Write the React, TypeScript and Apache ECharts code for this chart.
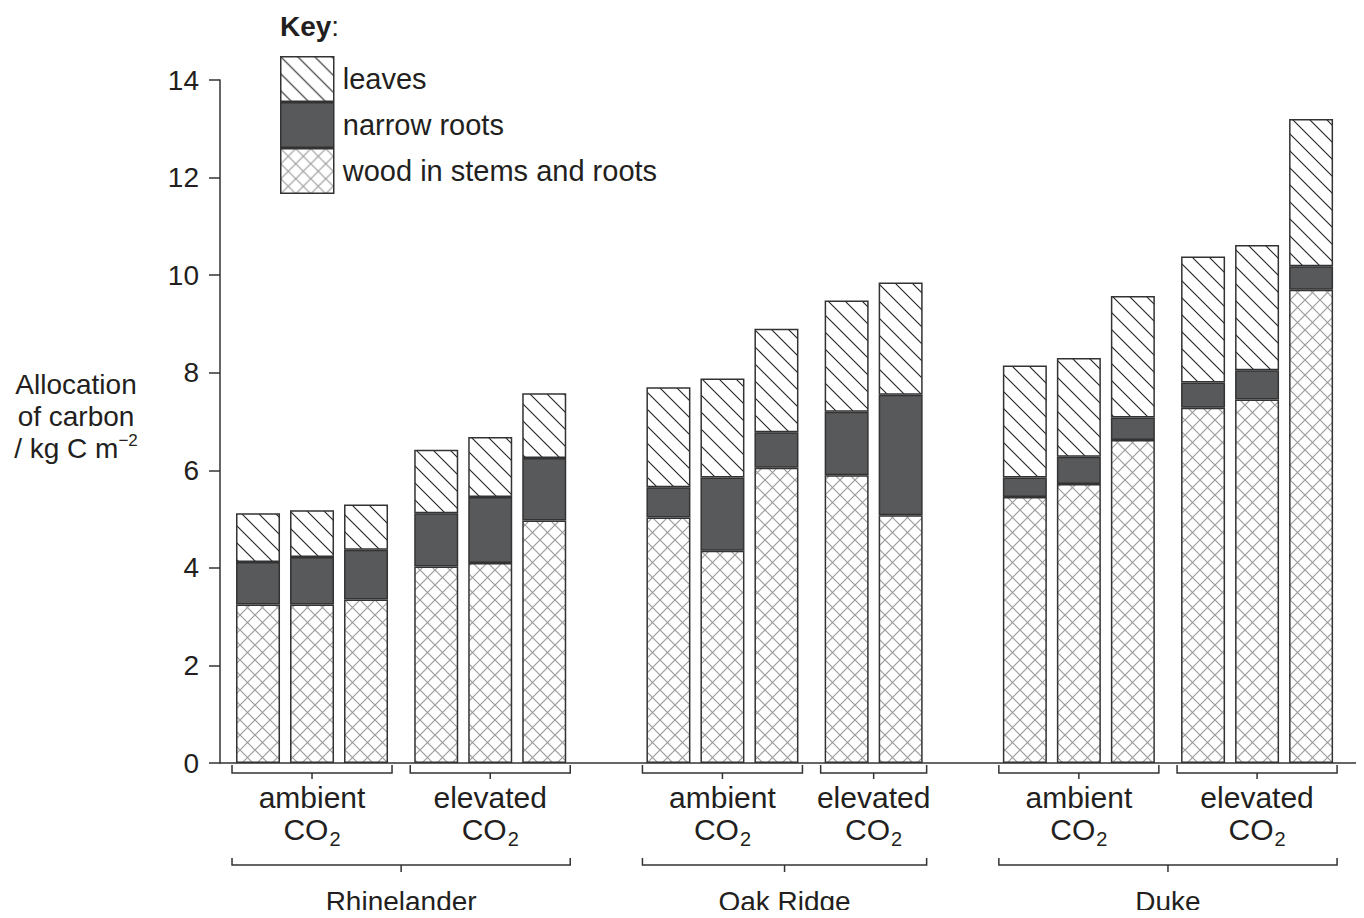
import React, { useEffect, useRef } from "react";
import * as echarts from "echarts";

const sites = ["Rhinelander", "Oak Ridge", "Duke"];
const treatments = ["ambient", "elevated"];
// site index and CO2 treatment index of every bar, left to right
const barSite = [0, 0, 0, 0, 0, 0, 1, 1, 1, 1, 1, 2, 2, 2, 2, 2, 2];
const barTreatment = [0, 0, 0, 1, 1, 1, 0, 0, 0, 1, 1, 0, 0, 0, 1, 1, 1];
// kg C m^-2
const wood = [3.25, 3.25, 3.35, 4.03, 4.1, 4.97, 5.03, 4.35, 6.05, 5.9, 5.08, 5.45, 5.72, 6.62, 7.28, 7.45, 9.7];
const narrowRoots = [0.87, 0.97, 1.02, 1.09, 1.35, 1.28, 0.62, 1.5, 0.73, 1.3, 2.47, 0.4, 0.56, 0.46, 0.52, 0.6, 0.48];
const leaves = [1.0, 0.96, 0.93, 1.3, 1.23, 1.33, 2.05, 2.03, 2.12, 2.28, 2.3, 2.3, 2.02, 2.49, 2.58, 2.57, 3.02];
const yMin = 0;
const yMax = 14;
const yInterval = 2;

const FONT = "'Liberation Sans', Arial, Helvetica, sans-serif";
const TEXT = "#231f20";
const EDGE = "#333333";
const BAR_W = 44;

// slot positions: 1 per bar, a small extra gap between treatments, a larger one between sites
const positions: number[] = [];
{
  let p = 0;
  barSite.forEach((s, i) => {
    if (i > 0) {
      p += 1;
      if (s !== barSite[i - 1]) p += 1.3;
      else if (barTreatment[i] !== barTreatment[i - 1]) p += 0.3;
    }
    positions.push(p);
  });
}

const svgTile = (w: number, h: number, body: string) =>
  "data:image/svg+xml;charset=utf-8," +
  encodeURIComponent(
    `<svg xmlns="http://www.w3.org/2000/svg" width="${w}" height="${h}"><rect width="${w}" height="${h}" fill="#ffffff"/>${body}</svg>`
  );

const leavesFill: any = {
  type: "pattern",
  image: svgTile(
    17,
    17,
    `<path d="M-2,-2L19,19M-2,15L2,19M15,-2L19,2" stroke="#222222" stroke-width="1.1" fill="none"/>`
  ),
  repeat: "repeat",
  imageWidth: 17,
  imageHeight: 17,
};
const woodFill: any = {
  type: "pattern",
  image: svgTile(
    15,
    15,
    `<path d="M-1,-1L16,16M16,-1L-1,16M1,-1L-1,1M16,14L14,16M14,-1L16,1M-1,14L1,16" stroke="#9c9c9c" stroke-width="1.2" fill="none"/>`
  ),
  repeat: "repeat",
  imageWidth: 15,
  imageHeight: 15,
};
const rootsFill = "#58595b";

export default function App() {
  const ref = useRef<HTMLDivElement>(null);
  useEffect(() => {
    if (!ref.current) return;
    const chart = echarts.init(ref.current, null, { renderer: "svg" });
    // value first, slot position second, so that the stack runs along the value dimension
    const mk = (name: string, vals: number[], color: any) => ({
      name,
      type: "bar",
      stack: "carbon",
      barWidth: BAR_W,
      silent: true,
      encode: { x: 1, y: 0 },
      data: vals.map((v, i) => [v, positions[i]]),
      itemStyle: { color, borderColor: EDGE, borderWidth: 1.5 },
      emphasis: { disabled: true },
    });
    const option: any = {
      animation: false,
      backgroundColor: "#ffffff",
      grid: { left: 220, right: 0, top: 80, bottom: 155 },
      xAxis: {
        type: "value",
        min: -0.704,
        max: 20.48,
        axisLine: { show: true, onZero: true, lineStyle: { color: EDGE, width: 1.5 } },
        axisTick: { show: false },
        axisLabel: { show: false },
        splitLine: { show: false },
      },
      yAxis: {
        type: "value",
        min: yMin,
        max: yMax,
        interval: yInterval,
        axisLine: { show: true, onZero: false, lineStyle: { color: EDGE, width: 1.5 } },
        axisTick: { show: true, inside: false, length: 11, lineStyle: { color: EDGE, width: 1.5 } },
        axisLabel: { fontSize: 28, color: TEXT, fontFamily: FONT, margin: 21 },
        splitLine: { show: false },
      },
      legend: {
        orient: "vertical",
        left: 280,
        top: 56,
        padding: 0,
        itemGap: 0,
        itemWidth: 53,
        itemHeight: 44.5,
        icon: "rect",
        selectedMode: false,
        data: ["leaves", "narrow roots", "wood in stems and roots"],
        itemStyle: { borderColor: EDGE, borderWidth: 1.5 },
        textStyle: { fontSize: 29, color: TEXT, fontFamily: FONT, padding: [0, 0, 4, 4] },
      },
      series: [
        mk("wood in stems and roots", wood, woodFill),
        mk("narrow roots", narrowRoots, rootsFill),
        mk("leaves", leaves, leavesFill),
      ],
    };
    chart.setOption(option);

    const px = (v: number) => chart.convertToPixel({ xAxisIndex: 0 }, v) as number;
    const y0 = chart.convertToPixel({ yAxisIndex: 0 }, 0) as number;
    const graphic: any[] = [];
    const lineStyle = { stroke: EDGE, lineWidth: 1.5, fill: "none" };
    const bracket = (l: number, r: number, y: number, up: number, down: number) => {
      const c = (l + r) / 2;
      graphic.push({
        type: "polyline",
        silent: true,
        shape: { points: [[l, y - up], [l, y], [r, y], [r, y - up]] },
        style: lineStyle,
      });
      graphic.push({
        type: "line",
        silent: true,
        shape: { x1: c, y1: y, x2: c, y2: y + down },
        style: lineStyle,
      });
      return c;
    };

    sites.forEach((site, s) => {
      const idx = barSite.map((v, i) => (v === s ? i : -1)).filter((i) => i >= 0);
      const siteL = px(positions[idx[0]]) - BAR_W / 2 - 4;
      const siteR = px(positions[idx[idx.length - 1]]) + BAR_W / 2 + 4;
      treatments.forEach((t, k) => {
        const g = idx.filter((i) => barTreatment[i] === k);
        if (!g.length) return;
        const l = px(positions[g[0]]) - BAR_W / 2 - 4;
        const r = px(positions[g[g.length - 1]]) + BAR_W / 2 + 4;
        const c = bracket(l, r, y0 + 10, 8, 6);
        graphic.push({
          type: "text",
          silent: true,
          style: {
            x: c,
            y: y0 + 17,
            align: "center",
            verticalAlign: "top",
            text: `{a|${t}}\n{c|CO}{s|2}`,
            fill: TEXT,
            fontFamily: FONT,
            rich: {
              a: { fontSize: 30, lineHeight: 34, fontFamily: FONT, fill: TEXT, color: TEXT },
              c: {
                fontSize: 30,
                lineHeight: 34,
                verticalAlign: "top",
                fontFamily: FONT,
                fill: TEXT,
                color: TEXT,
              },
              s: {
                fontSize: 20,
                verticalAlign: "bottom",
                padding: [15, 0, 0, 1],
                fontFamily: FONT,
                fill: TEXT,
                color: TEXT,
              },
            },
          },
        });
      });
      const c = bracket(siteL, siteR, y0 + 102, 7, 7);
      graphic.push({
        type: "text",
        silent: true,
        style: {
          x: c,
          y: y0 + 138,
          align: "center",
          verticalAlign: "middle",
          text: site,
          fontSize: 28,
          fontFamily: FONT,
          fill: TEXT,
        },
      });
    });

    graphic.push({
      type: "text",
      silent: true,
      style: {
        x: 280,
        y: 26,
        align: "left",
        verticalAlign: "middle",
        text: "{b|Key}{n|:}",
        rich: {
          b: { fontSize: 28, fontWeight: "bold", fontFamily: FONT, fill: TEXT, color: TEXT },
          n: { fontSize: 28, fontFamily: FONT, fill: TEXT, color: TEXT },
        },
      },
    });
    graphic.push({
      type: "text",
      silent: true,
      style: {
        x: 76,
        y: 368,
        align: "center",
        verticalAlign: "top",
        text: "{a|Allocation}\n{a|of carbon}\n{a|/ kg C m}{p|\u22122}",
        rich: {
          a: { fontSize: 28, lineHeight: 32, fontFamily: FONT, fill: TEXT, color: TEXT },
          p: { fontSize: 17, lineHeight: 20, verticalAlign: "top", fontFamily: FONT, fill: TEXT, color: TEXT },
        },
      },
    });
    chart.setOption({ graphic });

    return () => chart.dispose();
  }, []);
  return <div ref={ref} style={{ width: 1364, height: 918, margin: -8 }} />;
}
